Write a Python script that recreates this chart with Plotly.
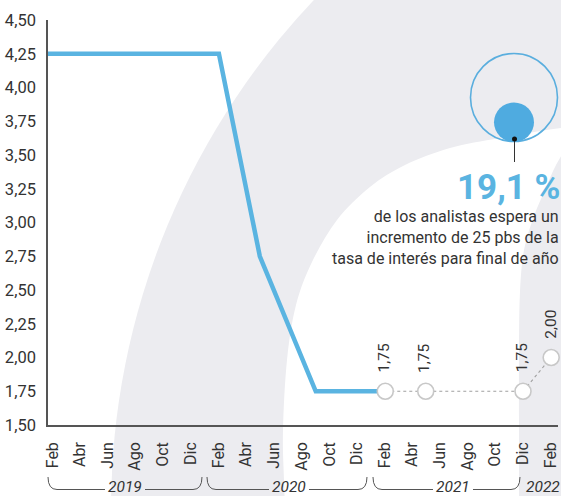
import plotly.graph_objects as go

# ---------------- data ----------------
hist_dates = ["2019-01-01", "2020-02-01", "2020-05-01", "2020-09-01", "2021-02-01"]
hist_rates = [4.25, 4.25, 2.75, 1.75, 1.75]

fc_dates = ["2021-02-01", "2021-05-01", "2021-12-01", "2022-02-01"]
fc_rates = [1.75, 1.75, 1.75, 2.00]

tick_dates = ["2019-02-01", "2019-04-01", "2019-06-01", "2019-08-01", "2019-10-01", "2019-12-01",
              "2020-02-01", "2020-04-01", "2020-06-01", "2020-08-01", "2020-10-01", "2020-12-01",
              "2021-02-01", "2021-04-01", "2021-06-01", "2021-08-01", "2021-10-01", "2021-12-01",
              "2022-02-01"]
tick_labels = ["Feb", "Abr", "Jun", "Ago", "Oct", "Dic",
               "Feb", "Abr", "Jun", "Ago", "Oct", "Dic",
               "Feb", "Abr", "Jun", "Ago", "Oct", "Dic",
               "Feb"]
y_ticks = [1.50, 1.75, 2.00, 2.25, 2.50, 2.75, 3.00, 3.25, 3.50, 3.75, 4.00, 4.25, 4.50]

years = ["2019", "2020", "2021", "2022"]
highlight_value = "19,1 %"
highlight_lines = ["de los analistas espera un",
                   "incremento de 25 pbs de la",
                   "tasa de interés para final de año"]

# ---------------- styling ----------------
W, H = 561, 496
L, R, T, B = 48, 558, 20, 425
BLUE = "#5ab4e1"
GREY_BG = "#ececf0"
TXT = "#333333"
FONT = "Roboto, Liberation Sans, sans-serif"


def px(x):
    return (x - L) / (R - L)


def py(y):
    return (B - y) / (B - T)


def smooth_path(pts, close_tail=None):
    p = [(px(a), py(b)) for a, b in pts]
    d = f"M{p[0][0]:.5f},{p[0][1]:.5f}"
    for i in range(len(p) - 1):
        p0 = p[i - 1] if i > 0 else p[i]
        p1 = p[i]
        p2 = p[i + 1]
        p3 = p[i + 2] if i + 2 < len(p) else p2
        c1 = (p1[0] + (p2[0] - p0[0]) / 6, p1[1] + (p2[1] - p0[1]) / 6)
        c2 = (p2[0] - (p3[0] - p1[0]) / 6, p2[1] - (p3[1] - p1[1]) / 6)
        d += f" C{c1[0]:.5f},{c1[1]:.5f} {c2[0]:.5f},{c2[1]:.5f} {p2[0]:.5f},{p2[1]:.5f}"
    if close_tail:
        for a, b in close_tail:
            d += f" L{px(a):.5f},{py(b):.5f}"
    d += " Z"
    return d


fig = go.Figure()

# historical line
fig.add_trace(go.Scatter(
    x=hist_dates, y=hist_rates, mode="lines",
    line=dict(color=BLUE, width=4.5),
    hoverinfo="skip", showlegend=False,
))

# forecast dotted line + markers
fig.add_trace(go.Scatter(
    x=fc_dates, y=fc_rates, mode="lines+markers",
    line=dict(color="#a0a0a0", width=1.1, dash="dot"),
    marker=dict(size=16, color="white", line=dict(color="#c8c8c8", width=1.6)),
    cliponaxis=False, hoverinfo="skip", showlegend=False,
))

shapes = []
# background: big grey ring
shapes.append(dict(type="circle", xref="paper", yref="paper", layer="below",
                   x0=px(111), x1=px(1591), y0=py(1249), y1=py(-231),
                   fillcolor=GREY_BG, line=dict(width=0)))
# white inner region
white_pts = [(286, 530), (284, 480), (283, 430), (287, 360), (296, 305), (312, 262),
             (337, 220), (370, 187), (405, 165), (450, 148), (500, 138), (561, 128), (620, 124)]
shapes.append(dict(type="path", xref="paper", yref="paper", layer="below",
                   path=smooth_path(white_pts, close_tail=[(620, 530)]),
                   fillcolor="white", line=dict(width=0)))
# inner right grey band
grey_pts = [(600, 120), (570, 145), (556, 165), (545, 190), (534, 216), (524, 250),
            (520, 292), (519, 350), (519, 420), (519, 530)]
shapes.append(dict(type="path", xref="paper", yref="paper", layer="below",
                   path=smooth_path(grey_pts, close_tail=[(620, 530), (620, 120)]),
                   fillcolor=GREY_BG, line=dict(width=0)))

# highlight circles
shapes.append(dict(type="circle", xref="paper", yref="paper",
                   x0=px(470.5), x1=px(557.5), y0=py(141.5), y1=py(53.5),
                   line=dict(color="#5aaede", width=1.6), fillcolor="rgba(0,0,0,0)"))
shapes.append(dict(type="circle", xref="paper", yref="paper",
                   x0=px(494), x1=px(534), y0=py(142), y1=py(102.5),
                   line=dict(width=0), fillcolor="#4fabe0"))
shapes.append(dict(type="line", xref="paper", yref="paper",
                   x0=px(514.5), x1=px(514.5), y0=py(139), y1=py(162),
                   line=dict(color="#333333", width=1)))
shapes.append(dict(type="circle", xref="paper", yref="paper",
                   x0=px(512), x1=px(517), y0=py(141.5), y1=py(136.5),
                   line=dict(width=0), fillcolor="#111111"))

# year brackets (pixel positions of bracket ends and label centres)
bracket_spec = [(48, 202, 125), (207, 367, 289), (373, 520, 453)]
yb, ytop = 489.5, 477
for x0, x1, xc in bracket_spec:
    tl, tr = xc - 20, xc + 20
    p_left = (f"M{px(x0):.5f},{py(ytop):.5f} Q{px(x0):.5f},{py(yb):.5f} {px(x0 + 9):.5f},{py(yb):.5f}"
              f" L{px(tl):.5f},{py(yb):.5f}")
    p_right = (f"M{px(tr):.5f},{py(yb):.5f} L{px(x1 - 9):.5f},{py(yb):.5f}"
               f" Q{px(x1):.5f},{py(yb):.5f} {px(x1):.5f},{py(ytop):.5f}")
    for pth in (p_left, p_right):
        shapes.append(dict(type="path", xref="paper", yref="paper", path=pth,
                           line=dict(color="#555555", width=1)))

annotations = []
year_centres = [125, 289, 453, 543]
for yr, xc in zip(years, year_centres):
    annotations.append(dict(xref="paper", yref="paper", x=px(xc), y=py(487),
                            text=f"<i>{yr}</i>", showarrow=False, xanchor="center", yanchor="middle",
                            font=dict(family=FONT, size=15.5, color=TXT)))

# forecast value labels
for d, v in zip(fc_dates, fc_rates):
    annotations.append(dict(x=d, y=v, xref="x", yref="y", text=f"{v:.2f}".replace(".", ","),
                            textangle=-90, showarrow=False, xanchor="center", yanchor="middle",
                            yshift=33, xshift=-1,
                            font=dict(family=FONT, size=15.5, color=TXT)))

# highlight texts
annotations.append(dict(xref="paper", yref="paper", x=px(562), y=py(187),
                        text=f"<b>{highlight_value}</b>", showarrow=False,
                        xanchor="right", yanchor="middle",
                        font=dict(family=FONT, size=35, color="#5ab4e1")))
annotations.append(dict(xref="paper", yref="paper", x=px(561), y=py(237.5),
                        text="<br>".join(highlight_lines), showarrow=False, align="right",
                        xanchor="right", yanchor="middle",
                        font=dict(family=FONT, size=16, color=TXT)))

fig.update_layout(
    width=W, height=H, autosize=False,
    margin=dict(l=L, r=W - R, t=T, b=H - B, pad=0),
    paper_bgcolor="white", plot_bgcolor="rgba(0,0,0,0)",
    separators=",.",
    shapes=shapes, annotations=annotations,
    showlegend=False,
    font=dict(family=FONT, color=TXT),
)
fig.update_xaxes(
    type="date", range=["2019-01-21", "2022-02-16"], automargin=False,
    tickmode="array", tickvals=tick_dates, ticktext=tick_labels, tickangle=-90,
    showgrid=False, zeroline=False, showline=True, linecolor="#555555", linewidth=1.5,
    ticks="outside", ticklen=9, tickcolor="rgba(0,0,0,0)",
    tickfont=dict(family=FONT, size=16, color=TXT),
)
fig.update_yaxes(
    range=[1.5, 4.5], tickmode="array", tickvals=y_ticks, tickformat=".2f", automargin=False,
    showgrid=False, zeroline=False, showline=True, linecolor="#555555", linewidth=1.5,
    ticks="outside", ticklen=7, tickcolor="rgba(0,0,0,0)",
    tickfont=dict(family=FONT, size=16.5, color=TXT),
)

fig.write_html("out.html", config={"displayModeBar": False},
               post_script="document.body.style.margin='0';document.body.style.overflow='hidden';")
